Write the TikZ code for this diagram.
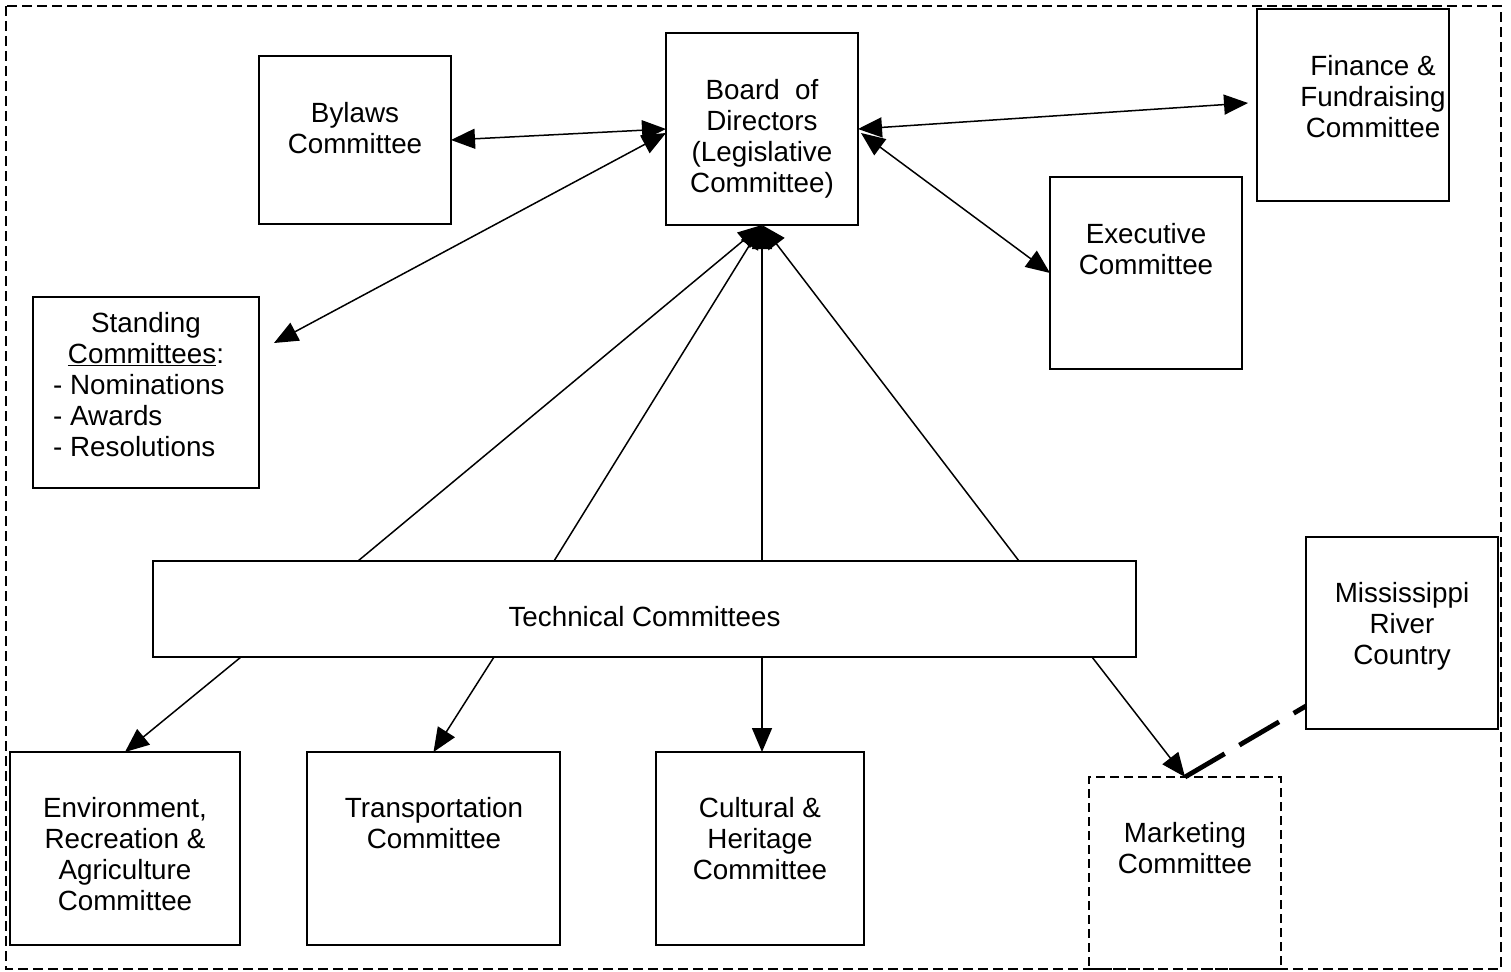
\documentclass[tikz,border=0pt]{standalone}
\usepackage{fontspec}
\setmainfont{Liberation Sans}
\usetikzlibrary{arrows.meta,calc}
\tikzset{
  box/.style={draw, line width=1.8pt, inner sep=0pt, outer sep=0pt},
  dbox/.style={draw, line width=1.8pt, dash pattern=on 9pt off 5pt, inner sep=0pt, outer sep=0pt},
  txt/.style={align=center, inner sep=0pt, font=\fontsize{27.8}{31}\selectfont},
  ltxt/.style={align=left, inner sep=0pt, font=\fontsize{27.8}{31}\selectfont},
  arr/.style={line width=1.5pt, -{Triangle[length=24pt,width=20pt]}},
  biarr/.style={line width=1.5pt, {Triangle[length=24pt,width=20pt]}-{Triangle[length=24pt,width=20pt]}},
  thickdash/.style={line width=4.8pt, dash pattern=on 46pt off 17pt},
}
\begin{document}
\begin{tikzpicture}[x=1pt,y=-1pt]
\useasboundingbox (0,0) rectangle (1511,971);
\draw[line width=1.3pt, dash pattern=on 10pt off 5pt] (6,6) rectangle (1501,969);
% boxes
\node[box, minimum width=192, minimum height=168] (bylaws) at (355,140) {};
\node[box, minimum width=192, minimum height=192] (board) at (762,129) {};
\node[box, minimum width=192, minimum height=192] (finance) at (1353,105) {};
\node[box, minimum width=192, minimum height=192] (exec) at (1146,273) {};
\node[box, minimum width=226, minimum height=191] (standing) at (146,392.5) {};
\node[box, minimum width=983, minimum height=96] (tech) at (644.5,609) {};
\node[box, minimum width=192, minimum height=192] (miss) at (1402,633) {};
\node[box, minimum width=230, minimum height=193] (env) at (125,848.5) {};
\node[box, minimum width=253, minimum height=193] (trans) at (433.5,848.5) {};
\node[box, minimum width=208, minimum height=193] (cult) at (760,848.5) {};
\node[dbox, minimum width=192, minimum height=192] (mkt) at (1185,873) {};
% texts
\node[txt] (bylawsT) at (355,128) {Bylaws\\Committee};
\node[txt] (boardT) at (762,139) {Board\ \ of\\Directors\\(Legislative\\Committee)};
\node[txt] (financeT) at (1373,97) {Finance \&\\Fundraising\\Committee};
\node[txt] (execT) at (1146,249) {Executive\\Committee};
\node[txt] (standingT) at (146,339) {Standing\\\underline{Committees}:};
\node[ltxt, anchor=west] (standingL) at (53,416) {- Nominations\\- Awards\\- Resolutions};
\node[txt] (techT) at (644.5,617) {Technical Committees};
\node[txt] (missT) at (1402,626) {Mississippi\\River\\Country};
\node[txt] (envT) at (125,854) {Environment,\\Recreation \&\\Agriculture\\Committee};
\node[txt] (transT) at (434,823) {Transportation\\Committee};
\node[txt] (cultT) at (760,839) {Cultural \&\\Heritage\\Committee};
\node[txt] (mktT) at (1185,848) {Marketing\\Committee};
% connectors
\draw[biarr] (bylaws.east) -- (board.west);
\draw[biarr] ([xshift=15pt,yshift=49.5pt]standing.east) -- ([yshift=-4pt]board.west);
\draw[biarr] (board.east) -- ([xshift=-9pt,yshift=2pt]finance.west);
\draw[biarr] ([xshift=3pt,yshift=-4pt]board.east) -- (exec.west);
\draw[arr] ([xshift=205pt]tech.north west) -- (board.south);
\draw[arr] ([xshift=401pt]tech.north west) -- (board.south);
\draw[arr] ([xshift=609pt]tech.north west) -- (board.south);
\draw[arr] ([xshift=866pt]tech.north west) -- (board.south);
\draw[arr] ([xshift=88pt]tech.south west) -- ([xshift=115pt]env.north west);
\draw[arr] ([xshift=341pt]tech.south west) -- (trans.north);
\coordinate (c3) at ([xshift=609pt]tech.south west);
\draw[arr] (c3) -- (c3 |- cult.north);
\draw[arr] ([xshift=939pt]tech.south west) -- (mkt.north);
\draw[thickdash] (mkt.north) -- ([yshift=-73pt]miss.west);
\end{tikzpicture}
\end{document}
